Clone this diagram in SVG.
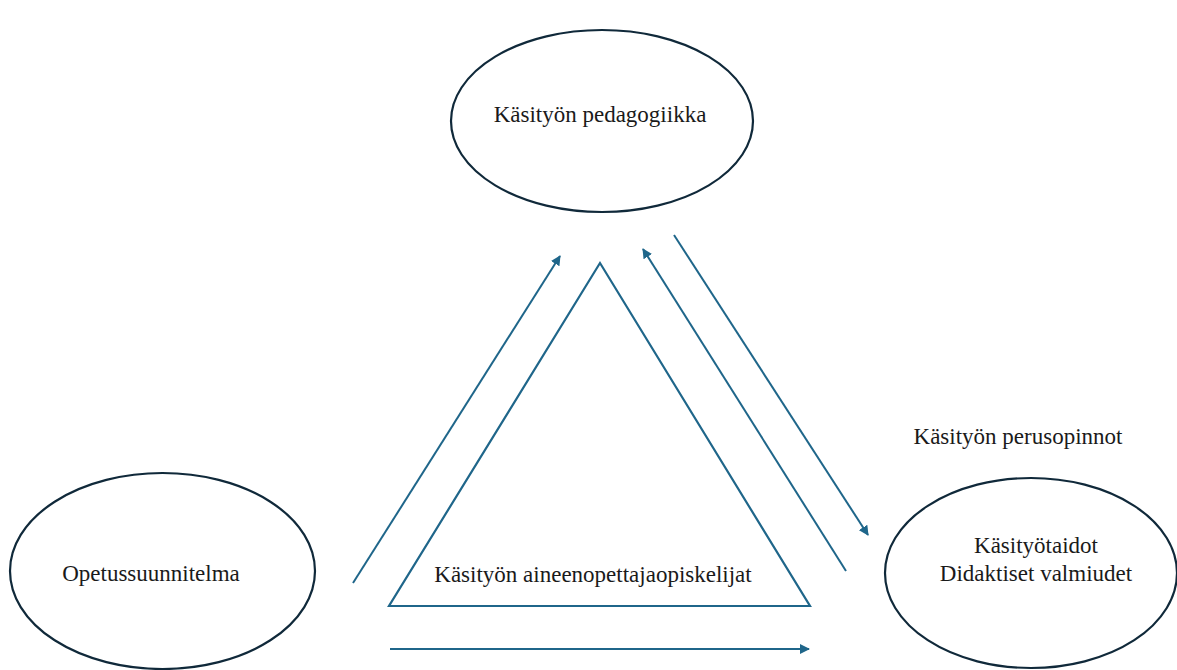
<svg xmlns="http://www.w3.org/2000/svg" width="1177" height="670" viewBox="0 0 1177 670">
<style>
.node{fill:#ffffff;stroke:#10293a;stroke-width:2.2}
.lbl{font-family:"Liberation Serif","Times New Roman",serif;font-size:23px;fill:#1a1a1a;text-anchor:middle}
.conn{stroke:#1f668a;stroke-width:2;fill:none}
</style>
<defs>
<marker id="ah" viewBox="0 0 10 10" refX="9" refY="5" markerWidth="5" markerHeight="5" markerUnits="strokeWidth" orient="auto">
<path d="M0,0 L10,5 L0,10 Z" fill="#1f668a"/>
</marker>
</defs>
<rect width="1177" height="670" fill="#ffffff"/>
<g id="node-pedagogiikka">
<ellipse class="node" cx="602" cy="121" rx="151" ry="91"/>
<text class="lbl" x="600" y="122">Käsityön pedagogiikka</text>
</g>
<g id="node-opetussuunnitelma">
<ellipse class="node" cx="162.5" cy="571" rx="152.5" ry="98"/>
<text class="lbl" x="151" y="581">Opetussuunnitelma</text>
</g>
<g id="node-taidot">
<ellipse class="node" cx="1031" cy="573" rx="146" ry="95"/>
<text class="lbl" x="1036" y="553">Käsityötaidot</text>
<text class="lbl" x="1036" y="581">Didaktiset valmiudet</text>
</g>
<g id="node-opiskelijat">
<polygon points="600,263 389,606 810,606" fill="none" stroke="#1f668a" stroke-width="2.2"/>
<text class="lbl" x="593" y="582">Käsityön aineenopettajaopiskelijat</text>
</g>
<g id="label-perusopinnot">
<text class="lbl" x="1018" y="444">Käsityön perusopinnot</text>
</g>
<g id="connectors">
<line class="conn" x1="353" y1="583" x2="560" y2="256" marker-end="url(#ah)"/>
<line class="conn" x1="846" y1="571" x2="643" y2="249" marker-end="url(#ah)"/>
<line class="conn" x1="674" y1="235" x2="868" y2="535" marker-end="url(#ah)"/>
<line class="conn" x1="390" y1="649" x2="809" y2="649" marker-end="url(#ah)"/>
</g>
</svg>
